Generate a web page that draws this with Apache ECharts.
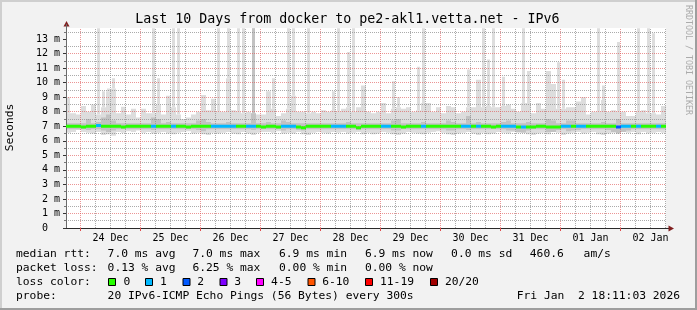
<!DOCTYPE html>
<html>
<head>
<meta charset="utf-8">
<script src="https://cdn.jsdelivr.net/npm/echarts@6/dist/echarts.min.js"></script>
<style>
html,body{margin:0;padding:0;background:#f2f2f2;overflow:hidden}
#chart{width:697px;height:310px}
</style>
</head>
<body>
<div id="chart"></div>
<script>
// ---------------- data ----------------
const startHour = 18 + 11 / 60 + 3 / 3600;   // 23 Dec 18:11:03 (hours since 23 Dec 00:00)
const spanHours = 240;                        // last 10 days
const binHours = 2;
const dayLabels = ['24 Dec','25 Dec','26 Dec','27 Dec','28 Dec','29 Dec','30 Dec','31 Dec','01 Jan','02 Jan'];
const yLabelValues = [0,1,2,3,4,5,6,7,8,9,10,11,12,13];
const canvasTopValue = 13.755;

// highest ping per bin (ms)
const pingMax = [
 9.0, 7.9, 7.8, 8.4, 8.0, 8.5, 13.75, 9.4, 9.6, 10.3,
 7.9, 8.35, 7.8, 8.2, 7.6, 8.2, 7.9, 13.75, 10.3, 7.8,
 9.1, 13.75, 13.75, 7.5, 7.6, 7.8, 8.0, 9.15, 8.1, 8.9,
 13.75, 8.0, 13.75, 8.1, 13.75, 13.75, 8.0, 13.75, 7.8, 7.8,
 9.4, 10.3, 7.7, 7.9, 13.75, 13.75, 8.0, 8.0, 13.75, 8.0,
 7.9, 8.1, 8.0, 9.4, 13.75, 8.2, 12.1, 13.75, 8.3, 9.8,
 8.0, 7.9, 8.0, 8.6, 7.9, 10.1, 9.0, 8.2, 8.3, 8.0,
 11.1, 13.75, 8.6, 8.0, 8.3, 7.9, 8.4, 8.3, 7.9, 8.0,
 10.9, 8.3, 10.2, 13.75, 11.6, 13.75, 8.3, 10.4, 8.5, 8.2,
 8.0, 13.75, 10.8, 7.9, 8.6, 8.2, 10.8, 9.9, 11.4, 10.2,
 8.3, 8.3, 8.7, 9.0, 7.8, 8.0, 13.75, 9.8, 8.0, 8.1,
 12.8, 8.0, 7.7, 7.7, 13.75, 8.1, 13.75, 13.4, 7.8, 8.4
];
// top of the continuous light smoke (ms)
const smokeTop = [
 7.9, 7.9, 7.8, 8.4, 8.0, 8.5, 7.8, 8.3, 9.4, 9.6,
 7.9, 8.35, 7.8, 8.2, 7.6, 8.2, 7.9, 7.9, 8.5, 7.8,
 9.1, 8.3, 7.8, 7.5, 7.6, 7.8, 8.0, 9.15, 8.1, 8.9,
 8.0, 8.0, 10.3, 8.1, 8.0, 7.9, 8.0, 7.9, 7.8, 7.8,
 9.4, 8.2, 7.7, 7.9, 8.2, 9.1, 8.0, 8.0, 7.9, 8.0,
 7.9, 8.1, 8.0, 8.1, 8.0, 8.2, 8.3, 8.0, 8.3, 9.8,
 8.0, 7.9, 8.0, 8.6, 7.9, 8.2, 8.3, 8.2, 8.3, 8.0,
 8.1, 8.6, 8.6, 8.0, 8.3, 7.9, 8.4, 8.3, 7.9, 8.0,
 8.3, 8.3, 10.2, 8.3, 8.4, 8.3, 8.3, 8.4, 8.5, 8.2,
 8.0, 8.6, 8.6, 7.9, 8.6, 8.2, 10.8, 9.9, 8.2, 8.2,
 8.3, 8.3, 8.7, 9.0, 7.8, 8.0, 8.0, 8.8, 8.0, 8.1,
 8.0, 8.0, 7.7, 7.7, 8.0, 8.1, 7.9, 7.9, 7.8, 8.4
];
// lowest ping per bin (ms)
const pingMin = [
 6.55, 6.6, 6.75, 6.6, 6.55, 6.5, 6.6, 6.4, 6.45, 6.35,
 6.6, 6.55, 6.65, 6.6, 6.7, 6.55, 6.6, 6.5, 6.55, 6.6,
 6.5, 6.45, 6.55, 6.6, 6.65, 6.5, 6.55, 6.45, 6.4, 6.55,
 6.5, 6.55, 6.6, 6.5, 6.45, 6.6, 6.5, 6.4, 6.55, 6.6,
 6.6, 6.55, 6.65, 6.5, 6.55, 6.5, 6.6, 6.45, 6.4, 6.55,
 6.6, 6.55, 6.5, 6.6, 6.55, 6.6, 6.5, 6.55, 6.6, 6.45,
 6.55, 6.45, 6.5, 6.6, 6.55, 6.45, 6.4, 6.5, 6.6, 6.55,
 6.5, 6.45, 6.55, 6.6, 6.65, 6.55, 6.45, 6.4, 6.5, 6.55,
 6.6, 6.5, 6.4, 6.55, 6.45, 6.5, 6.6, 6.55, 6.5, 6.6,
 6.55, 6.6, 6.45, 6.4, 6.5, 6.55, 6.45, 6.6, 6.55, 6.4,
 6.5, 6.55, 6.6, 6.5, 6.55, 6.6, 6.45, 6.4, 6.5, 6.55,
 6.5, 6.6, 6.55, 6.6, 6.45, 6.6, 6.5, 6.55, 6.6, 6.55
];
// inner (denser) smoke band
const midLo = [
 6.8, 6.8, 6.8, 6.8, 6.75, 6.8, 6.8, 6.7, 6.6, 6.7,
 6.8, 6.8, 6.8, 6.8, 6.8, 6.8, 6.8, 6.75, 6.8, 6.8,
 6.8, 6.8, 6.8, 6.8, 6.8, 6.8, 6.75, 6.65, 6.8, 6.8,
 6.8, 6.8, 6.8, 6.8, 6.8, 6.8, 6.8, 6.75, 6.8, 6.8,
 6.8, 6.8, 6.8, 6.7, 6.8, 6.8, 6.75, 6.7, 6.8, 6.8,
 6.8, 6.8, 6.8, 6.8, 6.8, 6.8, 6.8, 6.8, 6.75, 6.8,
 6.8, 6.8, 6.8, 6.8, 6.8, 6.7, 6.7, 6.8, 6.8, 6.8,
 6.8, 6.8, 6.8, 6.8, 6.8, 6.8, 6.7, 6.7, 6.8, 6.8,
 6.75, 6.8, 6.8, 6.8, 6.8, 6.8, 6.8, 6.8, 6.7, 6.7,
 6.6, 6.55, 6.7, 6.8, 6.8, 6.8, 6.6, 6.6, 6.75, 6.8,
 6.65, 6.7, 6.75, 6.8, 6.8, 6.8, 6.8, 6.8, 6.75, 6.6,
 6.5, 6.6, 6.7, 6.8, 6.8, 6.8, 6.8, 6.8, 6.8, 6.8
];
const midHi = [
 7.2, 7.2, 7.2, 7.2, 7.5, 7.2, 7.3, 7.6, 7.8, 7.4,
 7.2, 7.2, 7.2, 7.2, 7.2, 7.2, 7.2, 7.6, 7.5, 7.2,
 7.3, 7.2, 7.2, 7.2, 7.2, 7.2, 7.4, 7.5, 7.3, 7.2,
 7.2, 7.2, 7.3, 7.2, 7.2, 7.2, 7.2, 13.75, 7.2, 7.2,
 7.3, 7.2, 7.2, 7.4, 7.3, 7.2, 7.2, 7.2, 7.2, 7.2,
 7.2, 7.2, 7.2, 7.2, 7.2, 7.2, 7.3, 7.2, 7.2, 7.2,
 7.2, 7.2, 7.2, 7.2, 7.2, 7.4, 7.5, 7.2, 7.2, 7.2,
 7.2, 7.3, 7.2, 7.2, 7.2, 7.2, 7.4, 7.3, 7.2, 7.2,
 7.7, 7.2, 7.3, 7.2, 7.2, 7.2, 7.2, 7.3, 7.4, 7.2,
 7.2, 7.2, 7.3, 7.2, 7.2, 7.2, 7.5, 7.4, 7.2, 7.2,
 7.4, 7.4, 7.2, 7.2, 7.2, 7.2, 7.2, 7.3, 7.2, 7.2,
 7.5, 7.2, 7.2, 7.2, 7.2, 7.2, 7.2, 7.2, 7.2, 7.2
];
// median rtt (ms)
const median = [
 7.0, 7.0, 7.0, 6.95, 7.0, 7.0, 7.05, 7.0, 7.0, 7.0,
 7.0, 6.95, 7.0, 7.0, 7.0, 7.0, 7.0, 7.0, 7.0, 7.0,
 7.0, 7.0, 7.0, 7.0, 6.95, 7.0, 7.0, 7.0, 7.0, 7.0,
 7.0, 7.0, 7.0, 7.0, 7.0, 7.0, 7.0, 7.0, 7.0, 6.95,
 7.0, 7.0, 6.95, 7.0, 7.0, 7.0, 6.95, 6.9, 7.0, 7.0,
 7.0, 7.0, 7.0, 7.0, 7.0, 7.0, 7.0, 7.0, 6.9, 7.0,
 7.0, 7.0, 7.0, 7.0, 7.0, 7.0, 7.0, 6.95, 7.0, 7.0,
 7.0, 7.0, 7.0, 7.0, 7.0, 7.0, 7.0, 7.0, 7.0, 7.0,
 7.0, 7.0, 7.0, 7.0, 7.0, 6.95, 7.0, 7.0, 7.0, 7.0,
 6.95, 6.95, 6.95, 6.95, 7.0, 7.0, 6.95, 6.95, 6.95, 7.0,
 7.0, 7.0, 7.0, 7.0, 7.0, 7.0, 7.0, 7.0, 7.0, 7.0,
 6.95, 7.0, 7.0, 7.0, 7.0, 7.0, 7.0, 7.0, 7.0, 7.0
];
// lost pings (of 20) per bin
const lossCount = [
 0,0,0,0,0,0,1,0,0,0,
 0,0,0,0,0,0,0,1,0,0,
 0,1,0,0,0,0,0,0,0,1,
 1,1,1,1,0,0,1,1,0,0,
 0,0,0,1,1,1,0,0,0,0,
 0,0,0,1,1,1,0,0,0,0,
 0,0,0,1,1,0,0,0,0,0,
 0,1,0,0,0,0,0,0,0,1,
 1,0,1,0,0,0,0,1,1,1,
 0,1,0,0,0,0,0,0,0,1,
 1,0,1,1,0,0,0,0,0,0,
 2,1,1,0,1,0,0,0,1,0
];
const lossLegend = ['0','1','2','3','4-5','6-10','11-19','20/20'];
const lossColors = ['#26ff00','#00b8ff','#0059ff','#7e00ff','#ff00ff','#ff5500','#ff0000','#a10000'];
const rttStats = ['7.0 ms avg','7.0 ms max','6.9 ms min','6.9 ms now','0.0 ms sd','460.6','am/s'];
const lossStats = ['0.13 % avg','6.25 % max','0.00 % min','0.00 % now'];
const titleText = 'Last 10 Days from docker to pe2-akl1.vetta.net - IPv6';
const probeText = '20 IPv6-ICMP Echo Pings (56 Bytes) every 300s';
const stampText = 'Fri Jan  2 18:11:03 2026';

// ---------------- build ----------------
const MONO = '"DejaVu Sans Mono", monospace';
const endHour = startHour + spanHours;
const binCenters = pingMax.map((_, i) => startHour + binHours * (i + 0.5));
const smokeData = pingMax.map((v, i) => [binCenters[i], pingMin[i], smokeTop[i], v, midLo[i], midHi[i]]);
const medianData = median.map((v, i) => [binCenters[i], v, lossCount[i]]);
const dayStarts = dayLabels.map((_, i) => 24 * (i + 1));
const dayNoons = dayLabels.map((_, i) => 24 * (i + 1) + 12);

function lossBand(n) {
  if (n <= 3) return n;
  if (n <= 5) return 4;
  if (n <= 10) return 5;
  if (n <= 19) return 6;
  return 7;
}

const LIGHT = '#dddddd', MID = '#c2c2c2';
function renderSmoke(params, api) {
  const c = api.value(0);
  const left = api.coord([c - binHours / 2, 0])[0];
  const right = api.coord([c + binHours / 2, 0])[0];
  const mid = (left + right) / 2;
  const Y = v => api.coord([c, v])[1];
  const kids = [];
  const add = (lo, hi, l, r, fill) => {
    if (hi <= lo) return;
    const y1 = Y(hi), y0 = Y(lo);
    kids.push({ type: 'rect', shape: { x: l, y: y1, width: r - l, height: y0 - y1 }, style: { fill: fill } });
  };
  const lo = api.value(1), top = api.value(2), mx = api.value(3), mLo = api.value(4), mHi = api.value(5);
  add(lo, top, left, right, LIGHT);
  add(top, mx, mid - 1.5, mid + 1.5, LIGHT);
  add(mLo, Math.min(mHi, top), left, right, MID);
  add(Math.max(top, mLo), mHi, mid - 1.5, mid + 1.5, MID);
  return { type: 'group', children: kids };
}
function renderMedian(params, api) {
  const c = api.value(0);
  const l = api.coord([c - binHours / 2, 0])[0];
  const r = api.coord([c + binHours / 2, 0])[0];
  const y = api.coord([c, api.value(1)])[1];
  return { type: 'rect', shape: { x: l, y: y - 1.5, width: r - l, height: 3 },
           style: { fill: lossColors[lossBand(api.value(2))] } };
}

const majorGrid = { color: 'rgba(222,79,79,0.6)', width: 1, type: [1, 1] };
const minorGrid = { color: 'rgba(143,143,143,0.75)', width: 1, type: [1, 1] };
const vGrid = [];
for (let h = 24; h < endHour; h += 6) {
  if (h <= startHour) continue;
  vGrid.push([{ coord: [h, 0], lineStyle: h % 24 === 0 ? majorGrid : minorGrid }, { coord: [h, canvasTopValue] }]);
}

// text elements
const txt = (x, y, text, size, extra) => Object.assign({
  type: 'text', x: x, y: y, silent: true,
  style: Object.assign({ text: text, font: size + 'px ' + MONO, fill: '#000',
    textAlign: 'left', align: 'left', textVerticalAlign: 'middle', verticalAlign: 'middle' }, (extra && extra.style) || {})
}, extra ? { rotation: extra.rotation || 0 } : {});

const graphics = [
  { type: 'rect', z: -10, silent: true, shape: { x: 66, y: 28, width: 600, height: 200 }, style: { fill: '#ffffff' } },
  // 3D frame
  { type: 'rect', silent: true, shape: { x: 0, y: 0, width: 697, height: 2 }, style: { fill: '#cfcfcf' } },
  { type: 'rect', silent: true, shape: { x: 0, y: 0, width: 2, height: 310 }, style: { fill: '#cfcfcf' } },
  { type: 'rect', silent: true, shape: { x: 0, y: 308, width: 697, height: 2 }, style: { fill: '#9e9e9e' } },
  { type: 'rect', silent: true, shape: { x: 695, y: 0, width: 2, height: 310 }, style: { fill: '#9e9e9e' } },
  // arrows
  { type: 'polygon', silent: true, shape: { points: [[66.5, 21], [63.5, 26.5], [69.5, 26.5]] }, style: { fill: '#801f1f' } },
  { type: 'rect', silent: true, shape: { x: 666, y: 228, width: 3, height: 1 }, style: { fill: '#2a2a2a' } },
  { type: 'polygon', silent: true, shape: { points: [[674, 228.5], [668.5, 225.5], [668.5, 231.5]] }, style: { fill: '#801f1f' } },
  txt(347.3, 20, titleText, 13.3, { style: { textAlign: 'center', align: 'center' } }),
  txt(10.5, 127.5, 'Seconds', 11.3, { rotation: Math.PI / 2, style: { textAlign: 'center', align: 'center' } }),
  txt(688.5, 60, 'RRDTOOL / TOBI OETIKER', 8.3, { rotation: -Math.PI / 2, style: { textAlign: 'center', align: 'center', fill: '#ababab' } }),
  txt(16, 254.3, 'median rtt:', 11.3),
  txt(16, 268.3, 'packet loss:', 11.3),
  txt(16, 282.3, 'loss color:', 11.3),
  txt(16, 296, 'probe:', 11.3),
  txt(107.6, 296, probeText, 11.3),
  txt(680, 296, stampText, 11.3, { style: { textAlign: 'right', align: 'right' } })
];
const rttX = [107.6, 192.4, 279, 364.9, 451.1, 529.8, 583.6];
rttStats.forEach((s, i) => graphics.push(txt(rttX[i], 254.3, s, 11.3)));
const lossX = [107.6, 192.4, 279, 364.9];
lossStats.forEach((s, i) => graphics.push(txt(lossX[i], 268.3, s, 11.3)));
const boxX = [108.5, 145.5, 183, 220, 256.5, 308, 365.5, 430.5];
const boxLabelX = [123.6, 160, 197.3, 234.2, 271.1, 322.2, 380, 444.9];
lossLegend.forEach((s, i) => {
  graphics.push({ type: 'rect', silent: true, shape: { x: boxX[i], y: 278.5, width: 7, height: 7 },
                  style: { fill: lossColors[i], stroke: '#000', lineWidth: 1 } });
  graphics.push(txt(boxLabelX[i], 282.3, s, 11.3));
});

const chart = echarts.init(document.getElementById('chart'), null, { renderer: 'canvas' });
chart.setOption({
  animation: false,
  backgroundColor: '#f2f2f2',
  grid: { left: 66, right: 31, top: 24.5, bottom: 82, containLabel: false },
  xAxis: {
    type: 'value', min: startHour, max: endHour, z: 3,
    axisLine: { show: true, onZero: false, lineStyle: { color: '#2a2a2a', width: 1 } },
    axisTick: { show: true, customValues: dayStarts, length: 3, lineStyle: { color: '#de4f4f' } },
    axisLabel: {
      customValues: dayNoons, margin: 5, fontSize: 10, fontFamily: MONO, color: '#000',
      formatter: v => dayLabels[dayNoons.indexOf(Math.round(v))] || ''
    },
    splitLine: { show: false }
  },
  yAxis: {
    type: 'value', min: 0, max: 14, interval: 1, z: 3,
    axisLine: { show: true, lineStyle: { color: '#6a6a6a', width: 1 } },
    axisTick: { show: true, customValues: yLabelValues, length: 3, lineStyle: { color: '#333' } },
    minorTick: { show: true, splitNumber: 2, length: 2, lineStyle: { color: '#777' } },
    axisLabel: {
      customValues: yLabelValues, margin: 6, fontSize: 10, fontFamily: MONO, color: '#000',
      showMinLabel: true, showMaxLabel: true,
      formatter: v => (v === 0 ? '0  ' : v + ' m')
    },
    splitLine: { show: true, showMinLine: false, showMaxLine: false, lineStyle: majorGrid },
    minorSplitLine: { show: true, lineStyle: minorGrid }
  },
  series: [
    { type: 'custom', name: 'smoke', z: 2, clip: true, renderItem: renderSmoke, data: smokeData,
      encode: { x: 0, y: 3 }, silent: true },
    { type: 'custom', name: 'median', z: 10, clip: true, renderItem: renderMedian, data: medianData,
      encode: { x: 0, y: 1 }, silent: true,
      markLine: { silent: true, z: 3, symbol: ['none', 'none'], label: { show: false },
                  lineStyle: minorGrid, data: vGrid } }
  ],
  graphic: { elements: graphics }
});
</script>
</body>
</html>
